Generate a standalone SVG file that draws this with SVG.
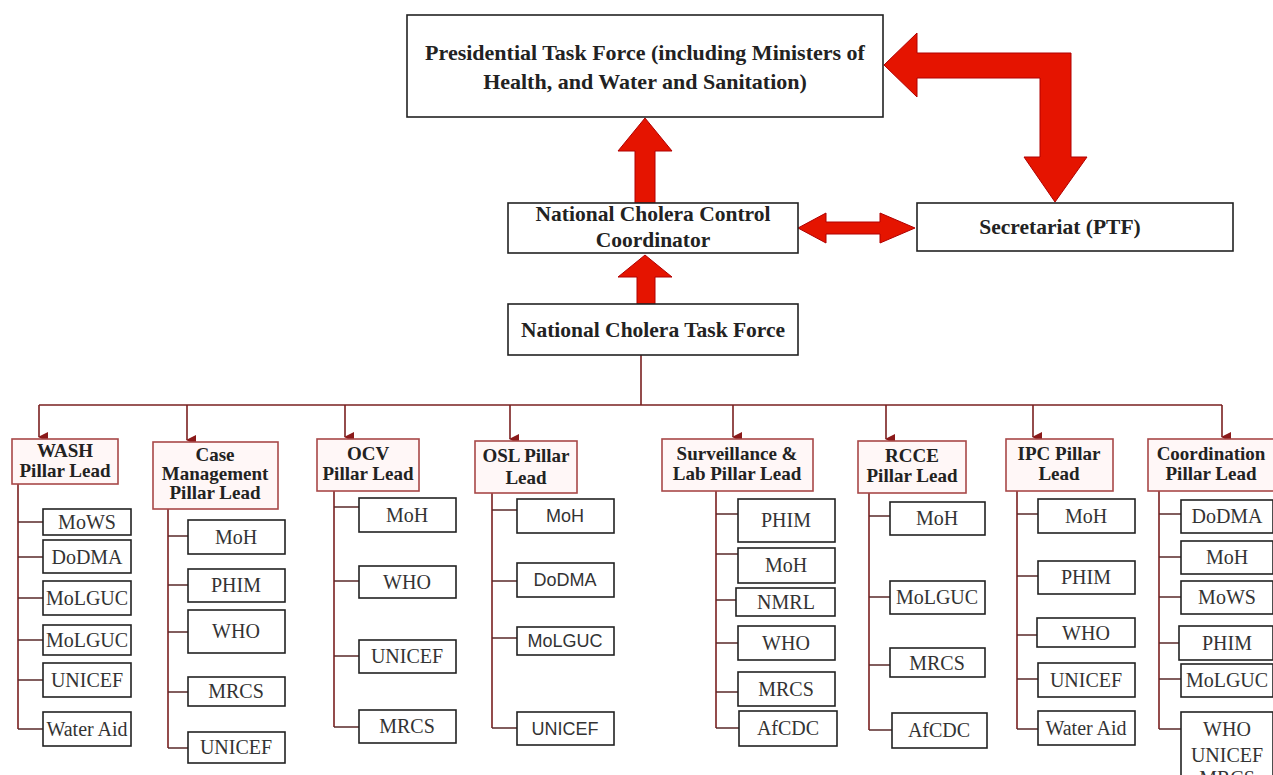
<svg xmlns="http://www.w3.org/2000/svg" width="1273" height="775" viewBox="0 0 1273 775">
<defs>
<marker id="ah" markerWidth="10" markerHeight="10" refX="5" refY="9" orient="auto" markerUnits="userSpaceOnUse" viewBox="0 0 10 10">
<path d="M0,0 L10,0 L5,10 Z" fill="#8b1a1a"/>
</marker>
<style>
.top{fill:#fff;stroke:#222;stroke-width:1.6}
.tt{font-family:"Liberation Serif",serif;font-weight:bold;fill:#222;text-anchor:middle}
.pl{fill:#fff7f7;stroke:#a84848;stroke-width:1.6}
.plt{font-family:"Liberation Serif",serif;font-weight:bold;font-size:19px;fill:#222;text-anchor:middle}
.ch{fill:#fff;stroke:#222;stroke-width:1.6}
.cht{font-family:"Liberation Serif",serif;font-size:20px;fill:#333;text-anchor:middle}
.chs{font-family:"Liberation Sans",sans-serif;font-size:18px;fill:#333;text-anchor:middle}
.red{fill:#e51400;stroke:#b00000;stroke-width:1;stroke-linejoin:miter}
.ln{stroke:#7a2020;stroke-width:1.6;fill:none}
.cl{stroke:#5a2a2a;stroke-width:1.4;fill:none}
</style>
</defs>
<rect width="1273" height="775" fill="#fff"/>

<g id="connectors">
<polygon class="red" points="645,118 672,151 655,151 655,203 635,203 635,151 618,151"/>
<polygon class="red" points="645,255 672,277 655,277 655,304 637,304 637,277 618,277"/>
<polygon class="red" points="798,228 826,213 826,222 880,222 880,213 915,228 880,243 880,234 826,234 826,243"/>
<polygon class="red" points="884,65 917,33 917,53 1071,53 1071,157 1087,157 1055,202 1024,157 1040,157 1040,78 917,78 917,97"/>
<path class="ln" d="M641,355 V405 M39,405 H1222"/>
<g marker-end="url(#ah)">
<path class="ln" d="M39,405 V437"/>
<path class="ln" d="M187,405 V440"/>
<path class="ln" d="M345,405 V437"/>
<path class="ln" d="M510,405 V439"/>
<path class="ln" d="M733,405 V437"/>
<path class="ln" d="M886,405 V439"/>
<path class="ln" d="M1033,405 V437"/>
<path class="ln" d="M1222,405 V437"/>
</g>
<path class="ln" d="M18,484 V729 M168,509 V748 M334,491 V727 M492,493 V728 M716,491 V728 M869,493 V730 M1017,491 V729 M1159,491 V729"/>
<path class="cl" d="M18,522 H43 M18,557 H43 M18,598 H43 M18,640 H43 M18,680 H43 M18,729 H43"/>
<path class="cl" d="M168,536 H188 M168,585 H188 M168,632 H188 M168,692 H188 M168,748 H188"/>
<path class="cl" d="M334,507 H359 M334,581 H359 M334,656 H359 M334,727 H359"/>
<path class="cl" d="M492,510 H517 M492,581 H517 M492,638 H517 M492,728 H517"/>
<path class="cl" d="M716,514 H738 M716,554 H738 M716,600 H736 M716,643 H738 M716,692 H738 M716,728 H739"/>
<path class="cl" d="M869,516 H890 M869,597 H890 M869,665 H890 M869,730 H892"/>
<path class="cl" d="M1017,514 H1038 M1017,576 H1038 M1017,635 H1037 M1017,679 H1038 M1017,729 H1038"/>
<path class="cl" d="M1159,514 H1181 M1159,557 H1181 M1159,597 H1181 M1159,643 H1179 M1159,679 H1181 M1159,729 H1181"/>
</g>

<g id="ptf">
<rect class="top" x="407" y="15" width="476" height="102"/>
<text class="tt" font-size="22" x="645" y="60">Presidential Task Force (including Ministers of</text>
<text class="tt" font-size="22" x="645" y="89">Health, and Water and Sanitation)</text>
</g>
<g id="nccc">
<rect class="top" x="508" y="203" width="290" height="50"/>
<text class="tt" font-size="21.5" x="653" y="221">National Cholera Control</text>
<text class="tt" font-size="21.5" x="653" y="247">Coordinator</text>
</g>
<g id="secretariat">
<rect class="top" x="917" y="203" width="316" height="48"/>
<text class="tt" font-size="21.5" x="1060" y="234">Secretariat (PTF)</text>
</g>
<g id="nctf">
<rect class="top" x="508" y="304" width="290" height="51"/>
<text class="tt" font-size="21.5" x="653" y="337">National Cholera Task Force</text>
</g>

<g id="wash">
<rect class="pl" x="12" y="439" width="106" height="45"/>
<text class="plt" x="65" y="457">WASH</text>
<text class="plt" x="65" y="477">Pillar Lead</text>
</g>
<g id="wash-children">
<rect class="ch" x="43" y="509" width="88" height="26"/><text class="cht" x="87" y="529">MoWS</text>
<rect class="ch" x="43" y="540" width="88" height="33"/><text class="cht" x="87" y="564">DoDMA</text>
<rect class="ch" x="43" y="581" width="88" height="34"/><text class="cht" x="87" y="605">MoLGUC</text>
<rect class="ch" x="43" y="625" width="88" height="30"/><text class="cht" x="87" y="647">MoLGUC</text>
<rect class="ch" x="43" y="663" width="88" height="34"/><text class="cht" x="87" y="687">UNICEF</text>
<rect class="ch" x="43" y="712" width="88" height="34"/><text class="cht" x="87" y="736">Water Aid</text>
</g>

<g id="casemgmt">
<rect class="pl" x="153" y="442" width="125" height="67"/>
<text class="plt" x="215" y="461">Case</text>
<text class="plt" x="215" y="480">Management</text>
<text class="plt" x="215" y="499">Pillar Lead</text>
</g>
<g id="casemgmt-children">
<rect class="ch" x="188" y="520" width="97" height="34"/><text class="cht" x="236" y="544">MoH</text>
<rect class="ch" x="188" y="569" width="97" height="33"/><text class="cht" x="236" y="592">PHIM</text>
<rect class="ch" x="188" y="610" width="97" height="43"/><text class="cht" x="236" y="638">WHO</text>
<rect class="ch" x="188" y="677" width="97" height="29"/><text class="cht" x="236" y="698">MRCS</text>
<rect class="ch" x="188" y="732" width="97" height="31"/><text class="cht" x="236" y="754">UNICEF</text>
</g>

<g id="ocv">
<rect class="pl" x="317" y="439" width="102" height="52"/>
<text class="plt" x="368" y="460">OCV</text>
<text class="plt" x="368" y="480">Pillar Lead</text>
</g>
<g id="ocv-children">
<rect class="ch" x="359" y="498" width="97" height="34"/><text class="cht" x="407" y="522">MoH</text>
<rect class="ch" x="359" y="566" width="97" height="32"/><text class="cht" x="407" y="589">WHO</text>
<rect class="ch" x="359" y="640" width="97" height="33"/><text class="cht" x="407" y="663">UNICEF</text>
<rect class="ch" x="359" y="710" width="97" height="33"/><text class="cht" x="407" y="733">MRCS</text>
</g>

<g id="osl">
<rect class="pl" x="475" y="441" width="102" height="52"/>
<text class="plt" x="526" y="462">OSL Pillar</text>
<text class="plt" x="526" y="484">Lead</text>
</g>
<g id="osl-children">
<rect class="ch" x="517" y="499" width="97" height="34"/><text class="chs" x="565" y="522">MoH</text>
<rect class="ch" x="517" y="563" width="97" height="34"/><text class="chs" x="565" y="586">DoDMA</text>
<rect class="ch" x="517" y="627" width="97" height="28"/><text class="chs" x="565" y="647">MoLGUC</text>
<rect class="ch" x="517" y="712" width="97" height="33"/><text class="chs" x="565" y="735">UNICEF</text>
</g>

<g id="surveillance">
<rect class="pl" x="662" y="439" width="151" height="52"/>
<text class="plt" x="737" y="460">Surveillance &amp;</text>
<text class="plt" x="737" y="480">Lab Pillar Lead</text>
</g>
<g id="surveillance-children">
<rect class="ch" x="738" y="499" width="97" height="43"/><text class="cht" x="786" y="527">PHIM</text>
<rect class="ch" x="738" y="548" width="97" height="35"/><text class="cht" x="786" y="572">MoH</text>
<rect class="ch" x="736" y="588" width="99" height="28"/><text class="cht" x="786" y="609">NMRL</text>
<rect class="ch" x="738" y="626" width="97" height="34"/><text class="cht" x="786" y="650">WHO</text>
<rect class="ch" x="738" y="672" width="97" height="34"/><text class="cht" x="786" y="696">MRCS</text>
<rect class="ch" x="739" y="711" width="98" height="35"/><text class="cht" x="788" y="735">AfCDC</text>
</g>

<g id="rcce">
<rect class="pl" x="858" y="441" width="108" height="52"/>
<text class="plt" x="912" y="462">RCCE</text>
<text class="plt" x="912" y="482">Pillar Lead</text>
</g>
<g id="rcce-children">
<rect class="ch" x="890" y="502" width="95" height="33"/><text class="cht" x="937" y="525">MoH</text>
<rect class="ch" x="890" y="581" width="95" height="33"/><text class="cht" x="937" y="604">MoLGUC</text>
<rect class="ch" x="890" y="648" width="95" height="29"/><text class="cht" x="937" y="670">MRCS</text>
<rect class="ch" x="892" y="713" width="95" height="35"/><text class="cht" x="939" y="737">AfCDC</text>
</g>

<g id="ipc">
<rect class="pl" x="1006" y="439" width="107" height="52"/>
<text class="plt" x="1059" y="460">IPC Pillar</text>
<text class="plt" x="1059" y="480">Lead</text>
</g>
<g id="ipc-children">
<rect class="ch" x="1038" y="499" width="97" height="34"/><text class="cht" x="1086" y="523">MoH</text>
<rect class="ch" x="1038" y="561" width="97" height="33"/><text class="cht" x="1086" y="584">PHIM</text>
<rect class="ch" x="1037" y="618" width="98" height="29"/><text class="cht" x="1086" y="640">WHO</text>
<rect class="ch" x="1038" y="663" width="97" height="34"/><text class="cht" x="1086" y="687">UNICEF</text>
<rect class="ch" x="1038" y="711" width="97" height="34"/><text class="cht" x="1086" y="735">Water Aid</text>
</g>

<g id="coordination">
<rect class="pl" x="1148" y="439" width="127" height="52"/>
<text class="plt" x="1211" y="460">Coordination</text>
<text class="plt" x="1211" y="480">Pillar Lead</text>
</g>
<g id="coordination-children">
<rect class="ch" x="1181" y="500" width="92" height="33"/><text class="cht" x="1227" y="523">DoDMA</text>
<rect class="ch" x="1181" y="541" width="92" height="33"/><text class="cht" x="1227" y="564">MoH</text>
<rect class="ch" x="1181" y="581" width="92" height="33"/><text class="cht" x="1227" y="604">MoWS</text>
<rect class="ch" x="1179" y="626" width="94" height="34"/><text class="cht" x="1227" y="650">PHIM</text>
<rect class="ch" x="1181" y="664" width="92" height="33"/><text class="cht" x="1227" y="687">MoLGUC</text>
<rect class="ch" x="1181" y="712" width="92" height="90"/>
<text class="cht" x="1227" y="736">WHO</text>
<text class="cht" x="1227" y="762">UNICEF</text>
<text class="cht" x="1227" y="785">MRCS</text>
</g>
</svg>
